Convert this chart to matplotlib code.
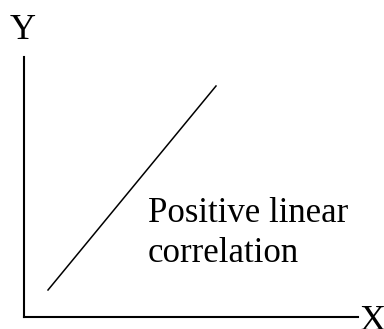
import matplotlib.pyplot as plt

plt.rcParams['font.family'] = ['Liberation Serif', 'DejaVu Serif']

# Trend line through the scatter region
x = [24, 192]
y = [27, 231]

W, H = 384, 329
fig = plt.figure(figsize=(W / 100, H / 100), dpi=100)
ax = fig.add_axes([24 / W, (H - 317) / H, (358 - 24) / W, (317 - 57) / H])
ax.set_xlim(0, 334)
ax.set_ylim(0, 260)

ax.plot(x, y, color='black', lw=1.1)

for side in ['top', 'right']:
    ax.spines[side].set_visible(False)
for side in ['left', 'bottom']:
    ax.spines[side].set_linewidth(1.5)
ax.set_xticks([])
ax.set_yticks([])
ax.patch.set_alpha(0)

fig.text(23 / W, 1 - 39 / H, 'Y', fontsize=26, ha='center', va='baseline')
fig.text(372 / W, 1 - 330 / H, 'X', fontsize=26, ha='center', va='baseline')
fig.text(148 / W, 1 - 222 / H, 'Positive linear', fontsize=25,
         ha='left', va='baseline')
fig.text(148 / W, 1 - 262 / H, 'correlation', fontsize=25,
         ha='left', va='baseline')

fig.savefig('out.png', dpi=100)
